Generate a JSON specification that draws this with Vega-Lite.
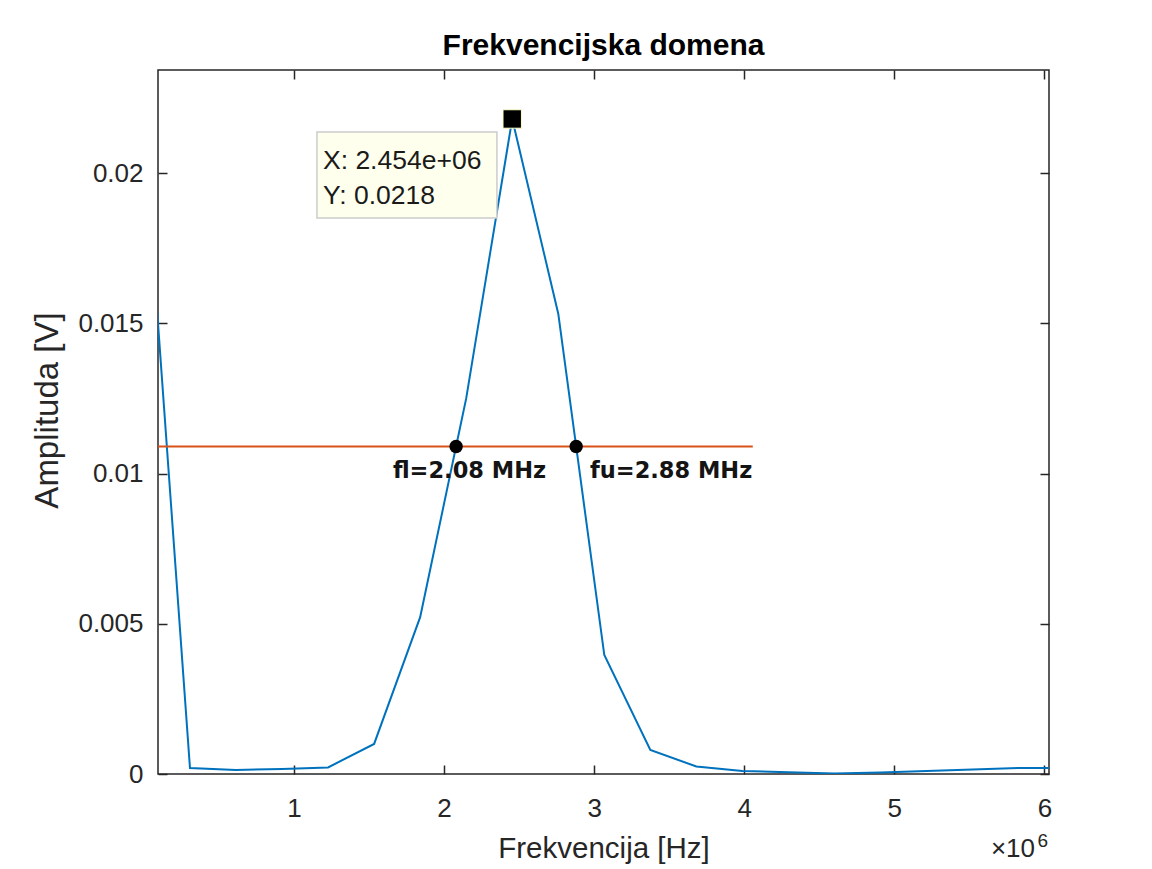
{
  "$schema": "https://vega.github.io/schema/vega-lite/v6.json",
  "width": 891,
  "height": 704,
  "autosize": "none",
  "padding": {"left": 158, "top": 70, "right": 103, "bottom": 95},
  "background": "white",
  "title": {
    "text": "Frekvencijska domena",
    "font": "Liberation Sans",
    "fontSize": 30,
    "fontWeight": "bold",
    "color": "#000000",
    "anchor": "middle",
    "frame": "group",
    "baseline": "alphabetic",
    "offset": 16,
    "dy": 32
  },
  "config": {
    "view": {"stroke": "#262626", "strokeWidth": 1.5},
    "axis": {
      "domain": false,
      "grid": false,
      "labelFont": "Liberation Sans",
      "labelFontSize": 26,
      "labelColor": "#262626",
      "titleFont": "Liberation Sans",
      "titleFontWeight": "normal",
      "titleColor": "#262626",
      "tickColor": "#262626",
      "tickWidth": 1.5,
      "tickSize": -9
    }
  },
  "datasets": {
    "spectrum": [
      {"f": 0, "a": 0.0215},
      {"f": 306750, "a": 0.0002},
      {"f": 613500, "a": 0.00013},
      {"f": 920250, "a": 0.00017},
      {"f": 1227000, "a": 0.00022},
      {"f": 1533750, "a": 0.001},
      {"f": 1840500, "a": 0.00522},
      {"f": 2147250, "a": 0.0125},
      {"f": 2454000, "a": 0.0218},
      {"f": 2760750, "a": 0.01532},
      {"f": 3067500, "a": 0.00396},
      {"f": 3374250, "a": 0.0008},
      {"f": 3681000, "a": 0.00025},
      {"f": 3987750, "a": 0.0001},
      {"f": 4294500, "a": 0.00006},
      {"f": 4601250, "a": 0.00002},
      {"f": 4908000, "a": 0.00005},
      {"f": 5214750, "a": 0.0001},
      {"f": 5521500, "a": 0.00015},
      {"f": 5828250, "a": 0.0002},
      {"f": 6135000, "a": 0.0002}
    ],
    "halfline": [
      {"f": 0, "a": 0.0109},
      {"f": 4057000, "a": 0.0109}
    ],
    "edges": [
      {"f": 2080000, "a": 0.0109, "label": "fl=2.08 MHz", "lx": 1659000},
      {"f": 2880000, "a": 0.0109, "label": "fu=2.88 MHz", "lx": 2972000}
    ],
    "peak": [
      {"f": 2454000, "a": 0.0218, "tip": ["X: 2.454e+06", "Y: 0.0218"]}
    ],
    "exponent": [
      {"base": "×10", "power": "6"}
    ]
  },
  "layer": [
    {
      "data": {"name": "spectrum"},
      "mark": {"type": "line", "clip": true, "color": "#0072BD", "strokeWidth": 2},
      "encoding": {
        "x": {
          "field": "f", "type": "quantitative",
          "scale": {"domain": [93700, 6030600], "nice": false, "zero": false},
          "axis": {
            "orient": "bottom",
            "values": [1000000, 2000000, 3000000, 4000000, 5000000, 6000000],
            "labelExpr": "datum.value / 1000000",
            "labelPadding": 30,
            "title": "Frekvencija [Hz]",
            "titleFontSize": 29.5,
            "titleBaseline": "alphabetic",
            "titleY": 83
          }
        },
        "y": {
          "field": "a", "type": "quantitative",
          "scale": {"domain": [0, 0.02343], "nice": false, "zero": false},
          "axis": {
            "orient": "left",
            "values": [0, 0.005, 0.01, 0.015, 0.02],
            "format": ".3~f",
            "labelPadding": 24,
            "title": "Amplituda [V]",
            "titleFontSize": 33,
            "titleBaseline": "alphabetic",
            "titleX": -101,
            "titleY": 340
          }
        }
      }
    },
    {
      "data": {"name": "spectrum"},
      "mark": {"type": "line", "clip": true, "opacity": 0},
      "encoding": {
        "x": {
          "field": "f", "type": "quantitative",
          "axis": {
            "orient": "top",
            "values": [1000000, 2000000, 3000000, 4000000, 5000000, 6000000],
            "labels": false,
            "title": null
          }
        },
        "y": {
          "field": "a", "type": "quantitative",
          "axis": {
            "orient": "right",
            "values": [0, 0.005, 0.01, 0.015, 0.02],
            "labels": false,
            "title": null
          }
        }
      }
    },
    {
      "data": {"name": "halfline"},
      "mark": {"type": "line", "clip": true, "color": "#D95319", "strokeWidth": 2},
      "encoding": {
        "x": {"field": "f", "type": "quantitative", "axis": null},
        "y": {"field": "a", "type": "quantitative", "axis": null}
      }
    },
    {
      "data": {"name": "edges"},
      "mark": {"type": "point", "shape": "circle", "filled": true, "size": 180, "color": "#000000", "opacity": 1},
      "encoding": {
        "x": {"field": "f", "type": "quantitative", "axis": null},
        "y": {"field": "a", "type": "quantitative", "axis": null}
      }
    },
    {
      "data": {"name": "edges"},
      "mark": {"type": "text", "align": "left", "baseline": "alphabetic", "dy": 32, "font": "DejaVu Sans", "fontWeight": "bold", "fontSize": 22.5, "color": "#141414"},
      "encoding": {
        "x": {"field": "lx", "type": "quantitative", "axis": null},
        "y": {"field": "a", "type": "quantitative", "axis": null},
        "text": {"field": "label"}
      }
    },
    {
      "data": {"name": "peak"},
      "mark": {"type": "rect", "fill": "#FFFFEE", "stroke": "#CCCCCC", "strokeWidth": 1.5},
      "encoding": {
        "x": {"datum": 1153000, "type": "quantitative", "axis": null},
        "x2": {"datum": 2352000},
        "y": {"datum": 0.018502, "type": "quantitative", "axis": null},
        "y2": {"datum": 0.021364}
      }
    },
    {
      "data": {"name": "peak"},
      "mark": {"type": "text", "align": "left", "baseline": "middle", "dx": 6, "font": "Liberation Sans", "fontSize": 26.5, "lineHeight": 35, "color": "#1a1a1a"},
      "encoding": {
        "x": {"datum": 1153000, "type": "quantitative", "axis": null},
        "y": {"datum": 0.0204, "type": "quantitative", "axis": null},
        "text": {"field": "tip"}
      }
    },
    {
      "data": {"name": "peak"},
      "mark": {"type": "point", "shape": "square", "filled": true, "size": 340, "color": "#000000", "stroke": "#FFFFCC", "strokeWidth": 1, "opacity": 1},
      "encoding": {
        "x": {"field": "f", "type": "quantitative", "axis": null},
        "y": {"field": "a", "type": "quantitative", "axis": null}
      }
    },
    {
      "data": {"name": "exponent"},
      "mark": {"type": "text", "align": "right", "baseline": "alphabetic", "dx": -14, "dy": 83, "font": "Liberation Sans", "fontSize": 26, "color": "#262626"},
      "encoding": {
        "x": {"datum": 6030600, "type": "quantitative", "axis": null},
        "y": {"datum": 0, "type": "quantitative", "axis": null},
        "text": {"field": "base"}
      }
    },
    {
      "data": {"name": "exponent"},
      "mark": {"type": "text", "align": "right", "baseline": "alphabetic", "dx": -1, "dy": 73, "font": "Liberation Sans", "fontSize": 19, "color": "#262626"},
      "encoding": {
        "x": {"datum": 6030600, "type": "quantitative", "axis": null},
        "y": {"datum": 0, "type": "quantitative", "axis": null},
        "text": {"field": "power"}
      }
    }
  ],
  "resolve": {"axis": {"x": "independent", "y": "independent"}}
}
